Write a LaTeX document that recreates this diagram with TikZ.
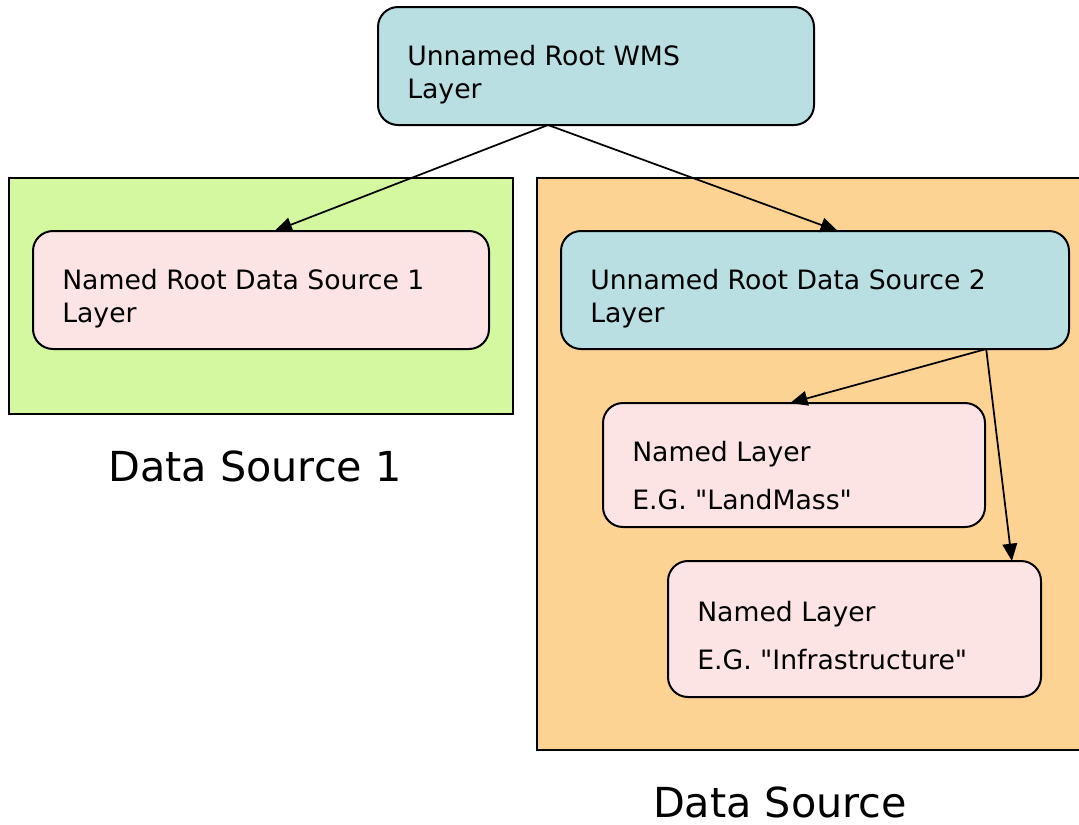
\documentclass[tikz,border=0pt]{standalone}
\usepackage{fontspec}
\setmainfont{DejaVu Sans}[Ligatures=TeXOff]
\usetikzlibrary{arrows.meta,calc}

\definecolor{wmsblue}{HTML}{B9DFE3}
\definecolor{layerpink}{HTML}{FDE4E4}
\definecolor{srcgreen}{HTML}{D4F8A0}
\definecolor{srcorange}{HTML}{FDD394}

\begin{document}
\begin{tikzpicture}[x=0.75pt,y=-0.75pt,
  unnamed/.style={draw,line width=1.5pt,rounded corners=15pt,fill=wmsblue,inner sep=0pt,outer sep=0pt},
  named/.style={draw,line width=1.5pt,rounded corners=15pt,fill=layerpink,inner sep=0pt,outer sep=0pt},
  area/.style={draw,line width=1.5pt,inner sep=0pt,outer sep=0pt},
  lbl/.style={anchor=base west,align=left,inner sep=0pt,font=\fontsize{20}{24.75}\selectfont},
  lbltall/.style={lbl,font=\fontsize{20}{36}\selectfont},
  srclbl/.style={anchor=base,inner sep=0pt,font=\fontsize{31}{36}\selectfont},
  arr/.style={-{Triangle[length=13pt,width=11pt]},line width=1.3pt}]
  \useasboundingbox (0,0) rectangle (1079,825);

  % the two data source areas
  \node[area,fill=srcgreen,minimum width=378pt,minimum height=177pt] (ds1) at (261,296) {};
  \node[area,fill=srcorange,minimum width=418.5pt,minimum height=429pt] (ds2) at (816,464) {};

  % layers
  \node[unnamed,minimum width=327pt,minimum height=88.5pt] (root) at (596,66) {};
  \node[named,minimum width=342pt,minimum height=88.5pt] (src1) at (261,290) {};
  \node[unnamed,minimum width=381pt,minimum height=88.5pt] (src2) at (815,290) {};
  \node[named,minimum width=286.5pt,minimum height=93pt] (land) at (794,465) {};
  \node[named,minimum width=279.75pt,minimum height=102pt] (infra) at (854.5,629) {};

  % labels sit on the baseline of their last line
  \node[lbl] (rootlbl) at (407,98) {Unnamed Root WMS\\Layer};
  \node[lbl] (src1lbl) at (62,322) {Named Root Data Source 1\\Layer};
  \node[lbl] (src2lbl) at (590,322) {Unnamed Root Data Source 2\\Layer};
  \node[lbltall] (landlbl) at (632,509) {Named Layer\\E.G. "LandMass"};
  \node[lbltall] (infralbl) at (697,669) {Named Layer\\E.G. "Infrastructure"};

  \node[srclbl] (ds1lbl) at (255,481) {Data Source 1};
  \node[srclbl] (ds2lbl) at (780,817) {Data Source};

  % connectors
  \coordinate (rootfork) at ($(root.south west)!0.39!(root.south east)$);
  \coordinate (src2fork) at ($(src2.south west)!0.837!(src2.south east)$);
  \draw[arr] (rootfork) -- ($(src1.north west)!0.53!(src1.north east)$);
  \draw[arr] (rootfork) -- ($(src2.north west)!0.545!(src2.north east)$);
  \draw[arr] (src2fork) -- ($(land.north west)!0.49!(land.north east)$);
  \draw[arr] (src2fork) -- ($(infra.north west)!0.922!(infra.north east)$);
\end{tikzpicture}
\end{document}
